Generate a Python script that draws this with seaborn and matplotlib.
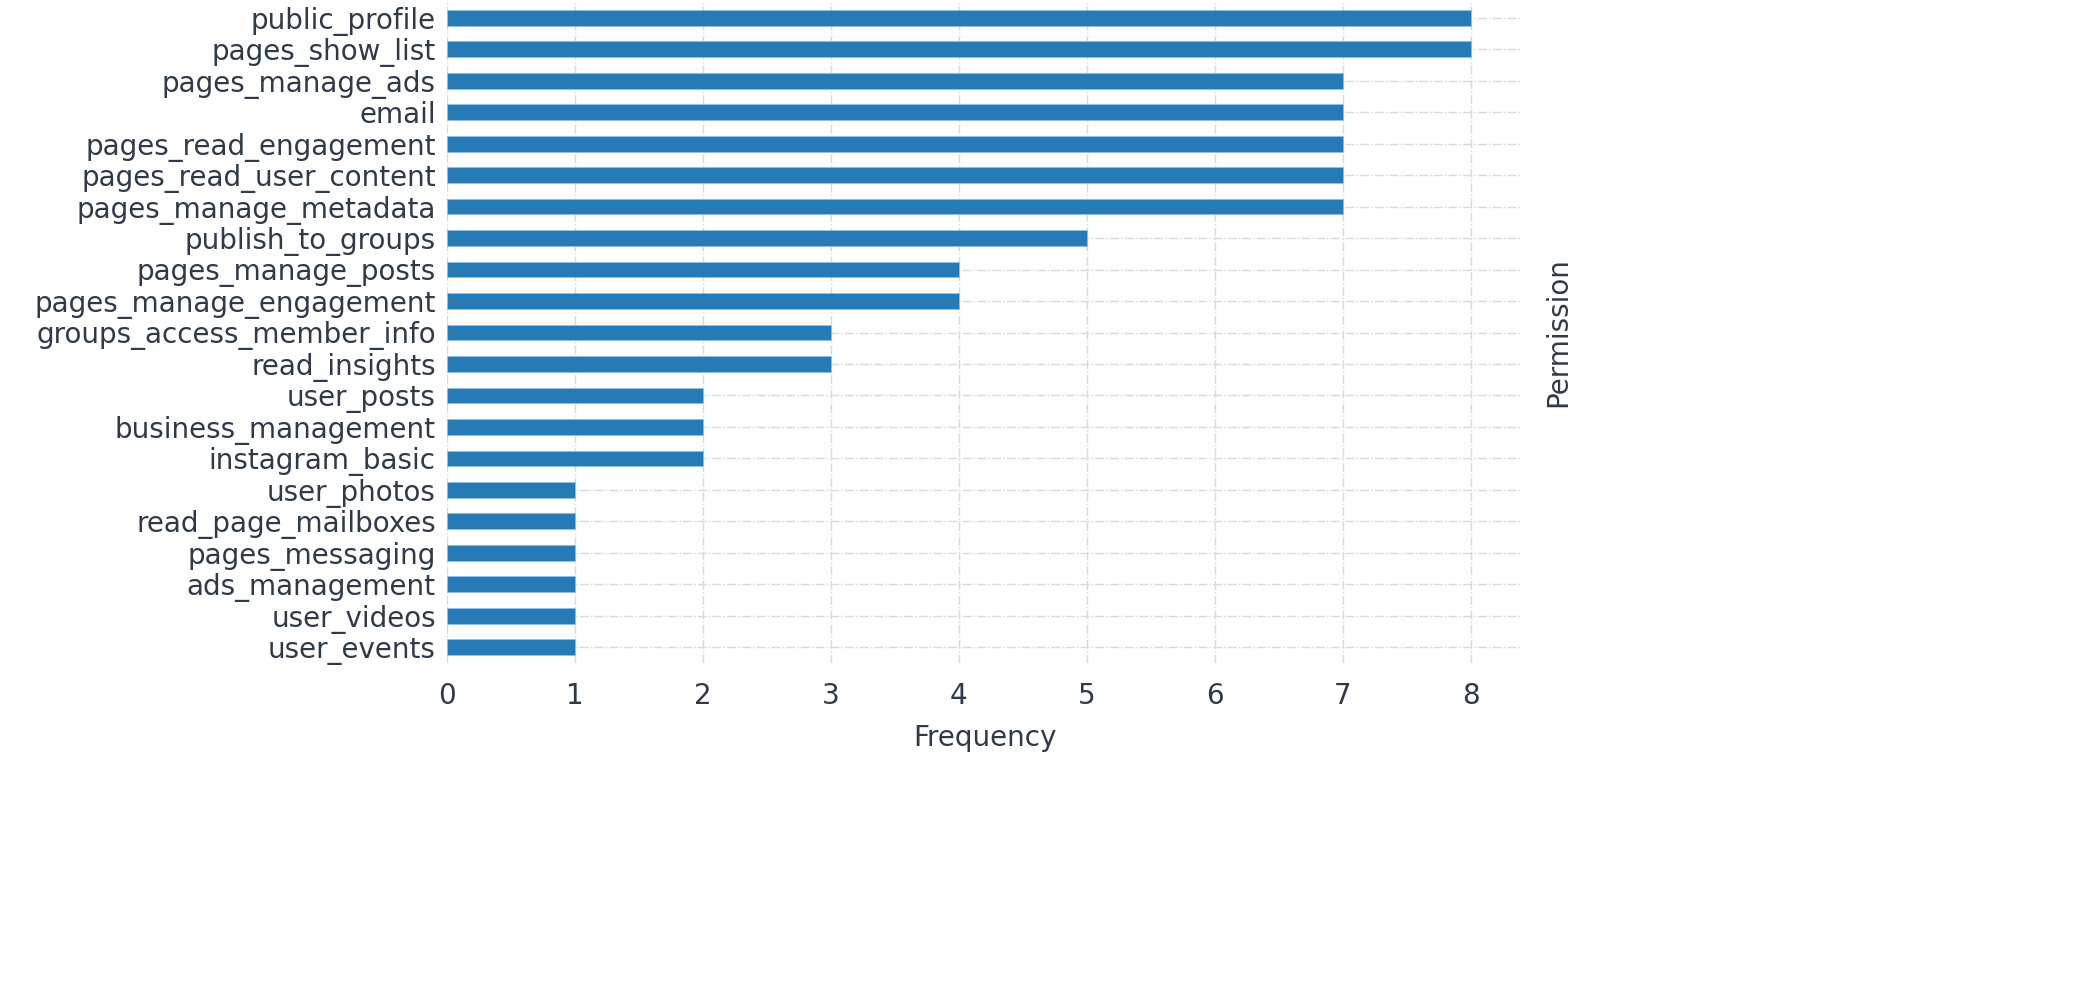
import matplotlib
matplotlib.use("Agg")
import matplotlib.pyplot as plt
import seaborn as sns
import pandas as pd

permissions = [
    "public_profile", "pages_show_list", "pages_manage_ads", "email",
    "pages_read_engagement", "pages_read_user_content", "pages_manage_metadata",
    "publish_to_groups", "pages_manage_posts", "pages_manage_engagement",
    "groups_access_member_info", "read_insights", "user_posts",
    "business_management", "instagram_basic", "user_photos",
    "read_page_mailboxes", "pages_messaging", "ads_management",
    "user_videos", "user_events",
]
frequencies = [8, 8, 7, 7, 7, 7, 7, 5, 4, 4, 3, 3, 2, 2, 2, 1, 1, 1, 1, 1, 1]

df = pd.DataFrame({"Permission": permissions, "Frequency": frequencies})

sns.set_theme(style="white")
plt.rcParams['font.family'] = ['DejaVu Sans']
text_color = "#2e3a48"
fs = 20

fig = plt.figure(figsize=(20.73, 10), dpi=100)
ax = fig.add_axes([0.2156, 0.337, 0.5186, 0.661])

sns.barplot(data=df, y="Permission", x="Frequency", orient="h",
            color="#1f77b4", saturation=1, width=0.5, ax=ax,
            edgecolor="#8fc1e3", linewidth=0.6, alpha=0.97, zorder=2)

ax.set_xlim(0, 8.4)
ax.set_xticks(range(0, 9))
ax.set_axisbelow(True)
ax.grid(True, which="major", axis="both", linestyle="-.", color="#d9d9d9",
        linewidth=1.0, zorder=0)
for s in ax.spines.values():
    s.set_visible(False)

ax.tick_params(axis="both", labelsize=fs, colors=text_color, length=0)
ax.tick_params(axis="x", pad=14)
ax.tick_params(axis="y", pad=8)
ax.set_xlabel("Frequency", fontsize=fs, color=text_color, labelpad=10)
ax.set_ylabel("Permission", fontsize=fs, color=text_color, labelpad=16)
ax.yaxis.set_label_position("right")

fig.savefig("out.png", dpi=100)
